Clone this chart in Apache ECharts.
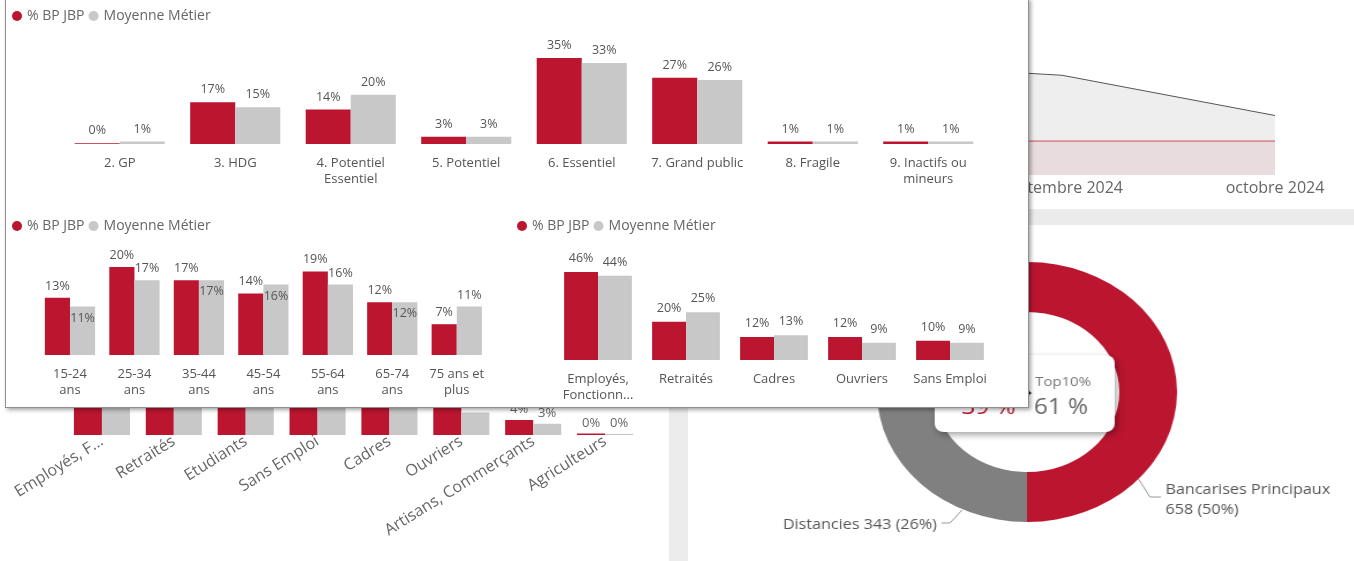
<!DOCTYPE html>
<html>
<head>
<meta charset="utf-8">
<script src="https://cdn.jsdelivr.net/npm/echarts@6/dist/echarts.min.js"></script>
<style>
html,body{margin:0;padding:0;background:#fff;overflow:hidden;width:1354px;height:561px}
#bg{position:absolute;left:0;top:0;width:1354px;height:561px}
#donut{position:absolute;left:677px;top:227px;width:700px;height:330px;transform:scaleX(1.154);transform-origin:350px 165px}
#popupBox{position:absolute;left:5px;top:-2px;width:1022px;height:408px;background:#fff;border:1px solid #8f8f8f;box-shadow:2px 2px 4px rgba(0,0,0,0.35)}
#popup{position:absolute;left:0;top:0;width:1354px;height:561px}
</style>
</head>
<body>
<div id="bg"></div>
<div id="donut"></div>
<div id="popupBox"></div>
<div id="popup"></div>
<script>
// data
const legendNames = ['% BP JBP', 'Moyenne Métier'];

const segCategories = ['2. GP', '3. HDG', '4. Potentiel\nEssentiel', '5. Potentiel', '6. Essentiel', '7. Grand public', '8. Fragile', '9. Inactifs ou\nmineurs'];
const segBp = [0.3, 17, 14, 3, 35, 27, 1, 1];
const segMoy = [1, 15, 20, 3, 33, 26, 1, 1];

const ageCategories = ['15-24\nans', '25-34\nans', '35-44\nans', '45-54\nans', '55-64\nans', '65-74\nans', '75 ans et\nplus'];
const ageBp = [13, 20, 17, 14, 19, 12, 7];
const ageMoy = [11, 17, 17, 16, 16, 12, 11];
const ageMoyLabelInside = [true, false, true, true, false, true, false];

const cspCategories = ['Employés,\nFonctionn...', 'Retraités', 'Cadres', 'Ouvriers', 'Sans Emploi'];
const cspBp = [46, 20, 12, 12, 10];
const cspMoy = [44, 25, 13, 9, 9];

const bgCspCategories = ['Employés, F...', 'Retraités', 'Etudiants', 'Sans Emploi', 'Cadres', 'Ouvriers', 'Artisans, Commerçants', 'Agriculteurs'];
const bgCspBp = [34, 22, 12, 10, 9, 9, 4, 0.4];
const bgCspMoy = [33, 20, 11, 9, 10, 6, 3, 0.3];

const months = ['juillet 2024', 'août 2024', 'septembre 2024', 'octobre 2024'];
const trendTotal = [66, 64, 57, 34];
const trendTop = [19.4, 19.4, 19.4, 19.4];

const donutNames = ['Bancarises Principaux', 'Distancies', 'Autres'];
const donutValues = [658, 343, 315];
const cardTitle = 'Top10%';
const cardValues = ['39 %', '61 %'];

const RED = '#BC1530';
const GREY = '#C8C8C8';
const FONT = 'Open Sans';
const pct = p => Math.round(p.value) + '%';

function xCat(gridIndex, data, extra) {
  return Object.assign({
    type: 'category', gridIndex: gridIndex, data: data,
    axisLine: {show: false}, axisTick: {show: false},
    axisLabel: {interval: 0, color: '#555', fontSize: 13, fontFamily: FONT, margin: 11, lineHeight: 16}
  }, extra || {});
}
function yVal(gridIndex, max) {
  return {type: 'value', gridIndex: gridIndex, min: 0, max: max, show: false, splitLine: {show: false}};
}
function bar(name, idx, data, color, gap, dist) {
  return {
    name: name, type: 'bar', xAxisIndex: idx, yAxisIndex: idx, data: data,
    barGap: 0, barCategoryGap: gap,
    itemStyle: {color: color},
    label: {show: true, position: 'top', distance: dist, formatter: pct, color: '#555', fontSize: 12.5, fontFamily: FONT}
  };
}
function legend(left, top) {
  return {
    left: left, top: top, data: legendNames, icon: 'circle', itemWidth: 10, itemHeight: 10, itemGap: 4, padding: 0,
    textStyle: {color: '#666', fontSize: 14, fontFamily: FONT}
  };
}

// ---------- background dashboard ----------
let bg = echarts.init(document.getElementById('bg'));
bg.setOption({
  animation: false,
  textStyle: {fontFamily: FONT},
  grid: [
    {left: 636, right: 79, top: 0, bottom: 386},
    {left: 66, right: 713, top: 247.5, bottom: 126}
  ],
  xAxis: [
    {type: 'category', gridIndex: 0, data: months, boundaryGap: false,
      axisLine: {show: false}, axisTick: {show: false},
      axisLabel: {color: '#666', fontSize: 16, margin: 5, interval: 0}},
    {type: 'category', gridIndex: 1, data: bgCspCategories,
      axisLine: {show: false}, axisTick: {show: false},
      axisLabel: {color: '#666', fontSize: 16, rotate: 32, margin: 5, interval: 0}}
  ],
  yAxis: [yVal(0, 100), yVal(1, 50)],
  series: [
    {type: 'line', xAxisIndex: 0, yAxisIndex: 0, data: trendTotal, symbol: 'none',
      lineStyle: {color: '#555', width: 1}, areaStyle: {color: '#eeeeee', opacity: 1}},
    {type: 'line', xAxisIndex: 0, yAxisIndex: 0, data: trendTop, symbol: 'none',
      lineStyle: {color: '#d04a5c', width: 1}, areaStyle: {color: '#e9dcde', opacity: 1}},
    {type: 'bar', xAxisIndex: 1, yAxisIndex: 1, data: bgCspBp, barGap: 0, barCategoryGap: '22%',
      itemStyle: {color: RED},
      label: {show: true, position: 'top', distance: 4, formatter: pct, color: '#666', fontSize: 13}},
    {type: 'bar', xAxisIndex: 1, yAxisIndex: 1, data: bgCspMoy, barGap: 0, barCategoryGap: '22%',
      itemStyle: {color: GREY},
      label: {show: true, position: 'top', distance: 4, formatter: pct, color: '#666', fontSize: 13}}
  ],
  graphic: [
    {type: 'rect', z: 0, shape: {x: 1028, y: 209, width: 326, height: 16}, style: {fill: '#ebebeb'}},
    {type: 'rect', z: 0, shape: {x: 669, y: 407, width: 19, height: 154}, style: {fill: '#ececec'}}
  ]
});

// ---------- donut (stretched like the screenshot) ----------
const CX = 350, CY = 165;
let donut = echarts.init(document.getElementById('donut'));
donut.setOption({
  animation: false,
  textStyle: {fontFamily: FONT},
  series: [{
    type: 'pie', center: [CX, CY], radius: [80, 130], startAngle: 90, clockwise: true,
    color: [RED, '#808080', '#d9d9d9'],
    data: donutNames.map((n, i) => ({name: n, value: donutValues[i]})),
    label: {
      color: '#555', fontSize: 14, lineHeight: 20,
      formatter: p => p.dataIndex === 0 ? p.name + '\n' + p.value + ' (' + Math.round(p.percent) + '%)'
                                          : p.name + ' ' + p.value + ' (' + Math.round(p.percent) + '%)'
    },
    labelLine: {lineStyle: {color: '#999', width: 1}},
    labelLayout: function (p) {
      if (p.dataIndex === 0) {
        return {x: 470, y: 273, align: 'left', verticalAlign: 'middle',
          labelLinePoints: [[446.6, 252], [456.6, 270], [466, 270]]};
      }
      if (p.dataIndex === 1) {
        return {x: 272, y: 298, align: 'right', verticalAlign: 'middle',
          labelLinePoints: [[293.7, 283], [283.3, 296], [276, 296]]};
      }
      return {};
    }
  }],
  graphic: [
    {type: 'rect', z: 10, shape: {x: 270, y: 128, width: 156, height: 77, r: 8},
      style: {fill: '#fff', shadowBlur: 6, shadowOffsetX: 2, shadowOffsetY: 3, shadowColor: 'rgba(0,0,0,0.35)'}},
    {type: 'polygon', z: 11, shape: {points: [[347, 160], [354, 166], [347, 172]]}, style: {fill: '#222'}},
    {type: 'text', z: 11, x: 357, y: 155, style: {text: cardTitle, fill: '#777', fontSize: 13, fontFamily: FONT, align: 'left', verticalAlign: 'middle'}},
    {type: 'text', z: 11, x: 340, y: 181, style: {text: cardValues[0], fill: RED, fontSize: 21, fontFamily: FONT, align: 'right', verticalAlign: 'middle'}},
    {type: 'text', z: 11, x: 356, y: 181, style: {text: cardValues[1], fill: '#666', fontSize: 21, fontFamily: FONT, align: 'left', verticalAlign: 'middle'}}
  ]
});

// ---------- popup with the three comparison charts ----------
let ageGrey = bar(legendNames[1], 1, ageMoy.map((v, i) => ageMoyLabelInside[i]
  ? {value: v, label: {position: 'insideTop', distance: 5}} : v), GREY, '22%', 5);

let popup = echarts.init(document.getElementById('popup'));
popup.setOption({
  animation: false,
  backgroundColor: 'transparent',
  textStyle: {fontFamily: FONT},
  color: [RED, GREY],
  legend: [legend(12, 9), legend(12, 219), legend(517, 219)],
  grid: [
    {left: 62, right: 368, top: 45.7, bottom: 417},
    {left: 37.75, right: 865, top: 245, bottom: 206},
    {left: 554, right: 360, top: 264.35, bottom: 201}
  ],
  xAxis: [xCat(0, segCategories), xCat(1, ageCategories), xCat(2, cspCategories)],
  yAxis: [yVal(0, 40), yVal(1, 25), yVal(2, 50)],
  series: [
    bar(legendNames[0], 0, segBp, RED, '22%', 6),
    bar(legendNames[1], 0, segMoy, GREY, '22%', 6),
    bar(legendNames[0], 1, ageBp, RED, '22%', 5),
    ageGrey,
    bar(legendNames[0], 2, cspBp, RED, '23%', 7),
    bar(legendNames[1], 2, cspMoy, GREY, '23%', 7)
  ]
});
</script>
</body>
</html>
